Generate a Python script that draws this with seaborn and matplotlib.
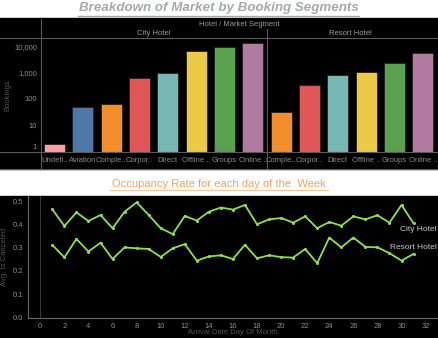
import numpy as np
import pandas as pd
import matplotlib
matplotlib.use("Agg")
import matplotlib.pyplot as plt
import seaborn as sns

# ---- data -------------------------------------------------------------
city_segments = ["Undefi..", "Aviation", "Comple..", "Corpor..", "Direct",
                 "Offline ..", "Groups", "Online .."]
city_bookings = [2, 54, 66, 650, 1070, 7100, 9900, 14200]

resort_segments = ["Comple..", "Corpor..", "Direct", "Offline ..", "Groups", "Online .."]
resort_bookings = [35, 358, 870, 1150, 2450, 6200]

segment_colors = {
    "Undefi..": "#FF9DA7", "Aviation": "#4E79A7", "Comple..": "#F28E2B",
    "Corpor..": "#E15759", "Direct": "#76B7B2", "Offline ..": "#EDC948",
    "Groups": "#59A14F", "Online ..": "#B07AA1",
}

days = list(range(1, 32))
city_cancel = [0.464, 0.393, 0.451, 0.414, 0.440, 0.383, 0.454, 0.494, 0.440, 0.383,
               0.358, 0.436, 0.416, 0.454, 0.472, 0.463, 0.483, 0.400, 0.421, 0.427,
               0.407, 0.434, 0.383, 0.410, 0.394, 0.434, 0.421, 0.439, 0.407, 0.483,
               0.404]
resort_cancel = [0.311, 0.258, 0.337, 0.283, 0.321, 0.251, 0.301, 0.297, 0.294, 0.260,
                 0.297, 0.315, 0.244, 0.262, 0.267, 0.251, 0.312, 0.254, 0.267, 0.259,
                 0.257, 0.294, 0.233, 0.343, 0.301, 0.343, 0.303, 0.301, 0.276, 0.244,
                 0.273]

# ---- figure -----------------------------------------------------------
W, H = 438, 338
sns.set_theme(style="dark")
plt.rcParams["font.family"] = ["Liberation Sans", "DejaVu Sans"]

fig = plt.figure(figsize=(W / 100, H / 100), dpi=100, facecolor="white")


def rect(x0, y0, x1, y1):
    return [x0 / W, 1 - y1 / H, (x1 - x0) / W, (y1 - y0) / H]


def hline(y, x0=0, x1=W, color="#5a5a5a", lw=0.8):
    fig.add_artist(plt.Line2D([x0 / W, x1 / W], [1 - y / H, 1 - y / H],
                              color=color, lw=lw, zorder=5))


def vline(x, y0, y1, color="#5a5a5a", lw=0.8):
    fig.add_artist(plt.Line2D([x / W, x / W], [1 - y0 / H, 1 - y1 / H],
                              color=color, lw=lw, zorder=5))


tick_col = "#8c8c8c"
small = 5.5

# black panels
fig.add_artist(plt.Rectangle((0, 1 - 169.5 / H), 1, (169.5 - 18.5) / H,
                             transform=fig.transFigure, color="black", zorder=0))
fig.add_artist(plt.Rectangle((0, 0), 1, (H - 195.5) / H,
                             transform=fig.transFigure, color="black", zorder=0))

# ---- top chart: bookings by hotel and market segment -----------------
fig.text(218.5 / W, 1 - 8.5 / H, "Breakdown of Market by Booking Segments",
         ha="center", va="center", fontsize=9.6, fontweight="bold",
         fontstyle="italic", color="#A6A9AC")
hline(16.2, 78, 359, color="#A6A9AC", lw=1.0)

fig.text(239 / W, 1 - 24.5 / H, "Hotel / Market Segment", ha="center", va="center",
         fontsize=small, color="#9a9a9a")
fig.text(153.5 / W, 1 - 33.5 / H, "City Hotel", ha="center", va="center",
         fontsize=small, color="#9a9a9a")
fig.text(350 / W, 1 - 33.5 / H, "Resort Hotel", ha="center", va="center",
         fontsize=small, color="#9a9a9a")

top_y0, top_y1 = 38, 152.3
ylo, yhi = 1, 10 ** ((top_y1 - top_y0) / 26.3)

panels = [
    (40.5, 267, city_segments, city_bookings),
    (267, 437, resort_segments, resort_bookings),
]
for x0, x1, segs, vals in panels:
    ax = fig.add_axes(rect(x0, top_y0, x1, top_y1))
    ax.set_facecolor("none")
    df = pd.DataFrame({"segment": segs, "bookings": vals})
    ax.set_yscale("log")
    sns.barplot(data=df, x="segment", y="bookings", hue="segment",
                palette=segment_colors, saturation=1, width=0.74, legend=False,
                ax=ax, linewidth=0.6, edgecolor="#222222")
    ax.set_ylim(ylo, yhi)
    ax.set_xlim(-0.5, len(segs) - 0.5)
    ax.set_xlabel("")
    ax.set_ylabel("")
    ax.grid(False)
    for s in ax.spines.values():
        s.set_visible(False)
    ax.tick_params(axis="x", length=0, pad=3.5, labelsize=small, colors=tick_col)
    ax.tick_params(axis="y", which="both", length=0, left=False)
    ax.set_yticks([])
    ax.set_yticks([], minor=True)

# y tick labels of the bookings axis
for v, lab in [(1, "1"), (10, "10"), (100, "100"), (1000, "1,000"), (10000, "10,000")]:
    ypx = top_y1 - np.log10(v) * 26.3
    if v == 1:
        ypx -= 5
    fig.text(37 / W, 1 - ypx / H, lab, ha="right", va="center",
             fontsize=small, color=tick_col)
fig.text(8 / W, 1 - 95 / H, "Bookings", rotation=90, ha="center", va="center",
         fontsize=small, color="#555555")

hline(38)
hline(152)
hline(169)
vline(40.5, 18.5, 169.5)
vline(267, 29, 169.5)

# ---- bottom chart: cancellation rate by day of month -----------------
fig.text(219 / W, 1 - 184 / H, "Occupancy Rate for each day of the  Week",
         ha="center", va="center", fontsize=8, color="#F5A35C")
hline(190.2, 110, 328, color="#F5C9A0", lw=0.9)

lx = 28
px_per_day = 12.04
x_left = (lx - 40.3) / px_per_day
x_right = (W - 40.3) / px_per_day
y_bot, y_top = 317.5, 196
ax2 = fig.add_axes(rect(lx, y_top, W, y_bot))
ax2.set_facecolor("none")

line_df = pd.DataFrame({
    "day": days * 2,
    "rate": city_cancel + resort_cancel,
    "hotel": ["City Hotel"] * len(days) + ["Resort Hotel"] * len(days),
})
sns.lineplot(data=line_df, x="day", y="rate", units="hotel", estimator=None,
             color="#8EE04F", lw=1.3, marker="o", markersize=2.2,
             markeredgewidth=0, ax=ax2)
ax2.axvline(0, color="#3a3a3a", lw=0.7, zorder=0)

ax2.set_xlim(x_left, x_right)
ax2.set_ylim(0, (y_bot - y_top) / 233)
ax2.set_xticks(range(0, 33, 2))
ax2.set_yticks([0, 0.1, 0.2, 0.3, 0.4, 0.5])
ax2.set_yticklabels(["0.0", "0.1", "0.2", "0.3", "0.4", "0.5"])
ax2.grid(False)
for name, s in ax2.spines.items():
    s.set_visible(name in ("left", "bottom"))
    s.set_color("#6a6a6a")
    s.set_linewidth(0.8)
ax2.tick_params(axis="both", labelsize=small, colors=tick_col, length=2,
                width=0.6, pad=2)
ax2.tick_params(axis="y", pad=1.5)
ax2.set_xlabel("")
ax2.set_ylabel("Avg. Is Canceled", fontsize=small, color="#555555", labelpad=3)
fig.text(233 / W, 1 - 332.5 / H, "Arrival Date Day Of Month", ha="center",
         va="center", fontsize=small, color="#555555")

# end-of-line labels for each hotel
fig.text(437 / W, 1 - 229.5 / H, "City Hotel", ha="right", va="center",
         fontsize=small + 0.5, color="#c8c8c8")
fig.text(437 / W, 1 - 247.5 / H, "Resort Hotel", ha="right", va="center",
         fontsize=small + 0.5, color="#c8c8c8")

fig.savefig("out.png", dpi=100, facecolor="white")
